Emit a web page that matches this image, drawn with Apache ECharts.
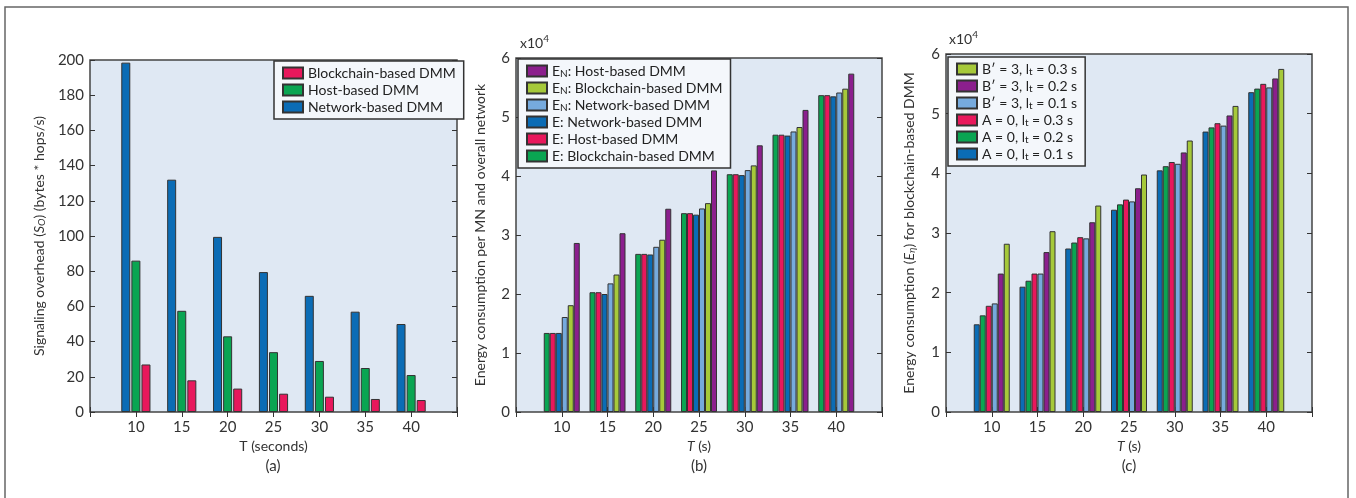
<!DOCTYPE html>
<html>
<head>
<meta charset="utf-8">
<script src="https://cdn.jsdelivr.net/npm/echarts@6/dist/echarts.min.js"></script>
<style>
html,body{margin:0;padding:0;background:#fff;}
#chart{width:1356px;height:498px;}
</style>
</head>
<body>
<div id="chart"></div>
<script>
// ---- Data ----
const categories = [10, 15, 20, 25, 30, 35, 40];

// Panel (a): signaling overhead (bytes * hops/s)
const aNetwork = [198.5, 132, 99.5, 79.5, 66, 57, 50];
const aHost = [86, 57.5, 43, 34, 29, 25, 21];
const aBlockchain = [27, 18, 13.3, 10.4, 8.7, 7.4, 6.8];

// Panel (b): energy consumption (x10^4)
const bEBlockchain = [1.34, 2.03, 2.68, 3.37, 4.03, 4.70, 5.37];
const bEHost = [1.34, 2.03, 2.68, 3.37, 4.03, 4.70, 5.37];
const bENetwork = [1.34, 2.00, 2.67, 3.345, 4.015, 4.685, 5.35];
const bENNetwork = [1.61, 2.18, 2.80, 3.45, 4.10, 4.755, 5.415];
const bENBlockchain = [1.81, 2.33, 2.92, 3.54, 4.18, 4.83, 5.48];
const bENHost = [2.865, 3.03, 3.445, 4.095, 4.52, 5.12, 5.735];

// Panel (c): energy consumption for blockchain-based DMM (x10^4)
const cA0_01 = [1.47, 2.10, 2.74, 3.39, 4.05, 4.70, 5.36];
const cA0_02 = [1.62, 2.20, 2.84, 3.48, 4.12, 4.77, 5.42];
const cA0_03 = [1.78, 2.32, 2.93, 3.56, 4.19, 4.84, 5.50];
const cB3_01 = [1.82, 2.32, 2.91, 3.53, 4.16, 4.80, 5.44];
const cB3_02 = [2.32, 2.68, 3.18, 3.75, 4.35, 4.97, 5.59];
const cB3_03 = [2.82, 3.03, 3.46, 3.98, 4.55, 5.13, 5.75];

const yTicksA = {min: 0, max: 200, interval: 20};
const yTicksBC = {min: 0, max: 6, interval: 1};
const xRange = {min: 5, max: 45, interval: 5};

// ---- Styles ----
const FONT = 'Lato';
const COL = {
  blue: '#0b6cb5', green: '#0aa552', red: '#e8185c',
  purple: '#8b1f8d', lime: '#a6c93a', light: '#76aadd'
};
const EDGE = '#333';

function pairs(vals){ return categories.map((c,i)=>[c, vals[i]]); }

function richName(name){
  // "_X" => subscript X
  const parts = name.split(/_(.)/);
  let s = '';
  parts.forEach((p,i)=>{ if(!p) return; s += (i%2 ? '{sub|'+p+'}' : '{t|'+p+'}'); });
  return s;
}

const grids = [
  {left: 90, top: 60, width: 367, height: 352},
  {left: 516, top: 58, width: 366, height: 354},
  {left: 946, top: 54, width: 366, height: 358}
];

const xAxes = [], yAxes = [];
const axisLabelStyle = {color: '#333', fontFamily: FONT, fontSize: 15};
const xNames = [
  '{t|T (seconds)}',
  '{i|T}{t| (s)}',
  '{i|T}{t| (s)}'
];
const yNames = [
  '{t|Signaling overhead (}{i|S}{isub|O}{t|) (bytes * hops/s)}',
  '{t|Energy consumption per MN and overall network}',
  '{t|Energy consumption (}{i|E}{isub|η}{t|) for blockchain-based DMM}'
];
const nameRich = {
  t: {fontFamily: FONT, fontSize: 14, color: '#333'},
  i: {fontFamily: FONT, fontSize: 14, color: '#333', fontStyle: 'italic'},
  isub: {fontFamily: FONT, fontSize: 10, color: '#333', fontStyle: 'italic', verticalAlign: 'bottom', padding: [6,0,0,0]}
};
const yGaps = [43, 29, 29];

grids.forEach((g, gi) => {
  const yt = gi === 0 ? yTicksA : yTicksBC;
  xAxes.push({
    type: 'value', gridIndex: gi, position: 'bottom', min: xRange.min, max: xRange.max, interval: xRange.interval,
    splitLine: {show: false}, axisLine: {show: false},
    axisTick: {show: true, inside: true, length: 5, lineStyle: {color: '#333'}},
    axisLabel: Object.assign({margin: 8, formatter: v => (v === xRange.min || v === xRange.max) ? '' : String(v)}, axisLabelStyle),
    name: xNames[gi], nameLocation: 'middle', nameGap: 27,
    nameTextStyle: {rich: nameRich}
  });
  xAxes.push({
    type: 'value', gridIndex: gi, position: 'top', min: xRange.min, max: xRange.max, interval: xRange.interval,
    splitLine: {show: false}, axisLine: {show: false}, axisLabel: {show: false},
    axisTick: {show: true, inside: true, length: 5, lineStyle: {color: '#333'}}
  });
  yAxes.push({
    type: 'value', gridIndex: gi, position: 'left', min: yt.min, max: yt.max, interval: yt.interval,
    splitLine: {show: false}, axisLine: {show: false},
    axisTick: {show: true, inside: true, length: 5, lineStyle: {color: '#333'}},
    axisLabel: Object.assign({margin: 6}, axisLabelStyle),
    name: yNames[gi], nameLocation: 'middle', nameGap: yGaps[gi], nameRotate: 90,
    nameTextStyle: {rich: nameRich}
  });
  yAxes.push({
    type: 'value', gridIndex: gi, position: 'right', min: yt.min, max: yt.max, interval: yt.interval,
    splitLine: {show: false}, axisLine: {show: false}, axisLabel: {show: false},
    axisTick: {show: true, inside: true, length: 5, lineStyle: {color: '#333'}}
  });
});

function bar(name, vals, color, gi, width, gap){
  return {
    type: 'bar', name: name, xAxisIndex: gi*2, yAxisIndex: gi*2,
    data: pairs(vals), barWidth: width, barGap: gap,
    itemStyle: {color: color, borderColor: EDGE, borderWidth: 1},
    emphasis: {disabled: true}, animation: false
  };
}

const series = [
  bar('Network-based DMM', aNetwork, COL.blue, 0, 9, '12%'),
  bar('Host-based DMM', aHost, COL.green, 0, 9, '12%'),
  bar('Blockchain-based DMM', aBlockchain, COL.red, 0, 9, '12%'),

  bar('E: Blockchain-based DMM', bEBlockchain, COL.green, 1, 6, '0%'),
  bar('E: Host-based DMM', bEHost, COL.red, 1, 6, '0%'),
  bar('E: Network-based DMM', bENetwork, COL.blue, 1, 6, '0%'),
  bar('E_N: Network-based DMM', bENNetwork, COL.light, 1, 6, '0%'),
  bar('E_N: Blockchain-based DMM', bENBlockchain, COL.lime, 1, 6, '0%'),
  bar('E_N: Host-based DMM', bENHost, COL.purple, 1, 6, '0%'),

  bar('A = 0, l_t = 0.1 s', cA0_01, COL.blue, 2, 6, '0%'),
  bar('A = 0, l_t = 0.2 s', cA0_02, COL.green, 2, 6, '0%'),
  bar('A = 0, l_t = 0.3 s', cA0_03, COL.red, 2, 6, '0%'),
  bar('B′ = 3, l_t = 0.1 s', cB3_01, COL.light, 2, 6, '0%'),
  bar('B′ = 3, l_t = 0.2 s', cB3_02, COL.purple, 2, 6, '0%'),
  bar('B′ = 3, l_t = 0.3 s', cB3_03, COL.lime, 2, 6, '0%')
];

const legendRich = {
  t: {fontFamily: FONT, fontSize: 14, color: '#222'},
  sub: {fontFamily: FONT, fontSize: 10, color: '#222', verticalAlign: 'bottom', padding: [6,0,0,0]}
};
function legend(data, left, top){
  return {
    orient: 'vertical', left: left, top: top, data: data,
    itemWidth: 20, itemHeight: 11, itemGap: 1,
    padding: [4, 8, 4, 8],
    backgroundColor: '#f4f7fb', borderColor: '#333', borderWidth: 1.5, borderRadius: 0,
    icon: 'rect', selectedMode: false,
    formatter: richName,
    textStyle: {fontFamily: FONT, fontSize: 14, color: '#222', lineHeight: 16, rich: legendRich}
  };
}

const option = {
  animation: false,
  grid: grids.map(g => Object.assign({show: true, backgroundColor: '#dfe8f3', borderColor: '#444', borderWidth: 1.5}, g)),
  xAxis: xAxes,
  yAxis: yAxes,
  legend: [
    legend(['Blockchain-based DMM', 'Host-based DMM', 'Network-based DMM'], 274, 61),
    legend(['E_N: Host-based DMM', 'E_N: Blockchain-based DMM', 'E_N: Network-based DMM',
            'E: Network-based DMM', 'E: Host-based DMM', 'E: Blockchain-based DMM'], 518, 59),
    legend(['B′ = 3, l_t = 0.3 s', 'B′ = 3, l_t = 0.2 s', 'B′ = 3, l_t = 0.1 s',
            'A = 0, l_t = 0.3 s', 'A = 0, l_t = 0.2 s', 'A = 0, l_t = 0.1 s'], 948, 57)
  ],
  graphic: [
    {type: 'rect', shape: {x: 5, y: 7, width: 1343, height: 520}, style: {fill: 'none', stroke: '#666', lineWidth: 1.5}, silent: true},
    {type: 'text', left: 520, top: 34, style: {text: '{t|x10}{sup|4}', rich: {
      t: {fontFamily: FONT, fontSize: 14, fill: '#333', verticalAlign: 'bottom'},
      sup: {fontFamily: FONT, fontSize: 10, fill: '#333', verticalAlign: 'top', padding: [0,0,6,0]}}}},
    {type: 'text', left: 949, top: 30, style: {text: '{t|x10}{sup|4}', rich: {
      t: {fontFamily: FONT, fontSize: 14, fill: '#333', verticalAlign: 'bottom'},
      sup: {fontFamily: FONT, fontSize: 10, fill: '#333', verticalAlign: 'top', padding: [0,0,6,0]}}}},
    {type: 'text', x: 273, y: 466, style: {text: '(a)', fontFamily: FONT, fontSize: 15, fill: '#333', align: 'center', verticalAlign: 'middle'}},
    {type: 'text', x: 699, y: 466, style: {text: '(b)', fontFamily: FONT, fontSize: 15, fill: '#333', align: 'center', verticalAlign: 'middle'}},
    {type: 'text', x: 1129, y: 466, style: {text: '(c)', fontFamily: FONT, fontSize: 15, fill: '#333', align: 'center', verticalAlign: 'middle'}}
  ],
  series: series
};

const chart = echarts.init(document.getElementById('chart'), null, {renderer: 'canvas'});
chart.setOption(option);
</script>
</body>
</html>
